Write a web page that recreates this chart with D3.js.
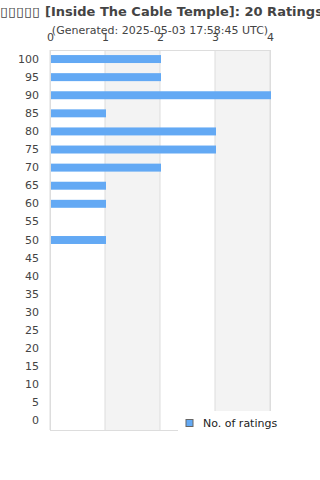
<!DOCTYPE html>
<html>
<head>
<meta charset="utf-8">
<script src="https://cdn.jsdelivr.net/npm/d3@7"></script>
<style>
  body { margin: 0; background: #fff; }
  #chart { width: 320px; height: 480px; overflow: hidden; }
  text { font-family: "DejaVu Sans", sans-serif; }
</style>
</head>
<body>
<div id="chart"></div>
<script>
// data
const ratings = ["100", "95", "90", "85", "80", "75", "70", "65", "60", "55", "50",
                 "45", "40", "35", "30", "25", "20", "15", "10", "5", "0"];
const counts = [2, 2, 4, 1, 3, 3, 2, 1, 1, 0, 1, 0, 0, 0, 0, 0, 0, 0, 0, 0, 0];
const xTicks = [0, 1, 2, 3, 4];

const width = 320, height = 480;
const margin = {top: 50, left: 50, right: 50, bottom: 50};

const svg = d3.select("#chart")
    .append("svg")
    .attr("width", width)
    .attr("height", height);

const xScale = d3.scaleLinear()
    .domain([0, 4])
    .range([margin.left, 270]);

const yScale = d3.scaleBand()
    .domain(ratings)
    .range([margin.top, 430])
    .paddingInner(0.56)
    .paddingOuter(0.28);

// alternating column shading
svg.selectAll("rect.band")
    .data(xTicks.slice(0, -1).filter(d => d % 2 === 1))
    .enter()
    .append("rect")
        .attr("class", "band")
        .attr("x", d => xScale(d))
        .attr("y", margin.top)
        .attr("width", d => xScale(d + 1) - xScale(d))
        .attr("height", 430 - margin.top)
        .attr("fill", "#f3f3f3");

// vertical grid lines
svg.selectAll("line.grid")
    .data(xTicks)
    .enter()
    .append("line")
        .attr("class", "grid")
        .attr("x1", d => xScale(d))
        .attr("x2", d => xScale(d))
        .attr("y1", margin.top)
        .attr("y2", 430)
        .attr("stroke", "#dddddd");

// plot border
svg.append("rect")
    .attr("x", margin.left + 0.5)
    .attr("y", margin.top + 0.5)
    .attr("width", xScale(4) - margin.left)
    .attr("height", 430 - margin.top)
    .attr("fill", "none")
    .attr("stroke", "#dddddd");

// bars
svg.selectAll("rect.bar")
    .data(counts)
    .enter()
    .append("rect")
        .attr("class", "bar")
        .attr("x", xScale(0) + 1)
        .attr("y", (d, i) => yScale(ratings[i]))
        .attr("width", d => Math.max(0, xScale(d) - xScale(0)))
        .attr("height", yScale.bandwidth())
        .attr("fill", "#63a9f4");

// top axis
const xAxis = svg.append("g")
    .attr("transform", `translate(0,${margin.top - 9})`)
    .call(d3.axisTop(xScale).tickValues(xTicks).tickSize(0).tickPadding(0).tickFormat(d3.format("d")));
xAxis.select(".domain").remove();
xAxis.selectAll("text")
    .attr("font-size", 11)
    .attr("fill", "#444")
    .attr("font-family", "DejaVu Sans, sans-serif");

// left axis
const yAxis = svg.append("g")
    .attr("transform", `translate(${margin.left - 11},0)`)
    .call(d3.axisLeft(yScale).tickSize(0).tickPadding(0));
yAxis.select(".domain").remove();
yAxis.selectAll("text")
    .attr("font-size", 11)
    .attr("fill", "#444")
    .attr("font-family", "DejaVu Sans, sans-serif");

// title (wider than the chart, cut at the right edge) + subtitle
svg.append("text")
    .attr("x", 40)
    .attr("y", 16)
    .attr("text-anchor", "end")
    .attr("font-size", 13)
    .attr("font-weight", "bold")
    .attr("fill", "#444")
    .attr("textLength", 40)
    .attr("lengthAdjust", "spacingAndGlyphs")
    .text("▯▯▯▯▯");

svg.append("text")
    .attr("x", 45)
    .attr("y", 16)
    .attr("font-size", 13)
    .attr("font-weight", "bold")
    .attr("fill", "#444")
    .text("[Inside The Cable Temple]: 20 Ratings");

svg.append("text")
    .attr("x", 160)
    .attr("y", 34)
    .attr("text-anchor", "middle")
    .attr("font-size", 11)
    .attr("fill", "#444")
    .text("(Generated: 2025-05-03 17:58:45 UTC)");

// legend
const legend = svg.append("g");
legend.append("rect")
    .attr("x", 178)
    .attr("y", 411)
    .attr("width", 120)
    .attr("height", 30)
    .attr("fill", "#fff");
legend.append("rect")
    .attr("x", 186)
    .attr("y", 419.5)
    .attr("width", 7)
    .attr("height", 7)
    .attr("fill", "#63a9f4")
    .attr("stroke", "#666");
legend.append("text")
    .attr("x", 203)
    .attr("y", 427)
    .attr("font-size", 11)
    .attr("fill", "#222")
    .text("No. of ratings");
</script>
</body>
</html>
